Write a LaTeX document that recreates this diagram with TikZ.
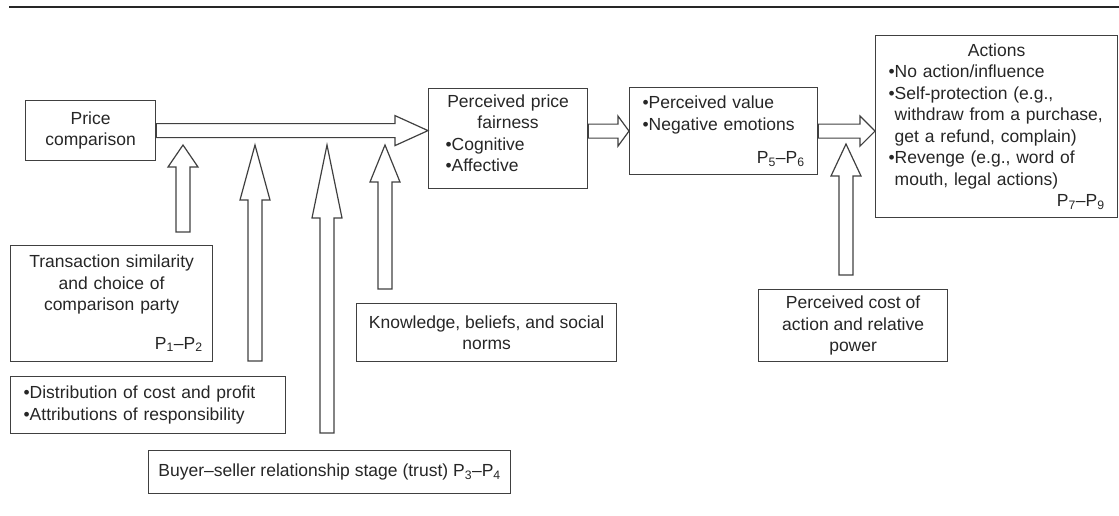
\documentclass[tikz,border=0pt]{standalone}
\usepackage{fontspec}
\setmainfont{Liberation Sans}
\usetikzlibrary{calc}

\tikzset{
	box/.style={draw=black!75, line width=1.2pt, anchor=north west, inner sep=0pt,
		align=center, text=black!85, font=\fontsize{17.5}{21.5}\selectfont},
	fat/.style={draw=black!75, line width=1.2pt, line join=miter}
}
% one line of a box, flushed left or right
\newcommand{\lft}[1]{\makebox[\hsize][l]{#1}}
\newcommand{\rgt}[1]{\makebox[\hsize][r]{#1}}
% hollow block arrow: from, to, head length
\newcommand{\fatarrow}[3]{%
	\coordinate (hb) at ($(#2)!#3!(#1)$);
	\draw[fat] ($(#1)!7pt!90:(#2)$) -- ($(hb)!7pt!90:(#2)$) -- ($(hb)!15pt!90:(#2)$) -- (#2)
		-- ($(hb)!15pt!-90:(#2)$) -- ($(hb)!7pt!-90:(#2)$) -- ($(#1)!7pt!-90:(#2)$) -- cycle;}

\begin{document}
\begin{tikzpicture}[x=1pt, y=-1pt]
		\useasboundingbox (0,0) rectangle (1119,515);
		\draw[line width=1.8pt, black!85] (9,7) -- (1119,7);

		\node[box, minimum width=130pt, minimum height=60pt] (pc) at (25,100) {Price\\comparison};
		\node[box, minimum width=159pt, minimum height=100pt, text width=125pt] (fair) at (428,88)
			{Perceived price\\fairness\\\lft{•Cognitive}\\\lft{•Affective\rule[-11pt]{0pt}{11pt}}};
		\node[box, minimum width=188pt, minimum height=87pt, text width=162pt] (val) at (629,87)
			{\lft{•Perceived value}\\\lft{•Negative emotions}\\[12pt]\rgt{P\textsubscript{5}–P\textsubscript{6}}};
		\node[box, minimum width=242pt, minimum height=182pt, text width=216pt] (act) at (875,35)
			{Actions\\\lft{•No action/influence}\\\lft{•Self-protection (e.g.,}\\
			\lft{\phantom{•}withdraw from a purchase,}\\\lft{\phantom{•}get a refund, complain)}\\
			\lft{•Revenge (e.g., word of}\\\lft{\phantom{•}mouth, legal actions)}\\
			\rgt{P\textsubscript{7}–P\textsubscript{9}}};

		\node[box, minimum width=202pt, minimum height=116pt, text width=182pt] (sim) at (10,245)
			{Transaction similarity\\and choice of\\comparison party\\[17pt]\rgt{P\textsubscript{1}–P\textsubscript{2}}};
		\node[box, minimum width=275pt, minimum height=57pt, text width=249pt, align=left] (dist) at (10,376)
			{•Distribution of cost and profit\\•Attributions of responsibility};
		\node[box, minimum width=362pt, minimum height=43pt] (trust) at (148,450)
			{Buyer–seller relationship stage (trust) P\textsubscript{3}–P\textsubscript{4}};
		\node[box, minimum width=260pt, minimum height=58pt] (know) at (356,303)
			{Knowledge, beliefs, and social\\norms};
		\node[box, minimum width=189pt, minimum height=72pt] (cost) at (758,289)
			{Perceived cost of\\action and relative\\power};

		% main flow
		\coordinate (fairIn) at (fair.west |- pc.east);
		\fatarrow{pc.east}{fairIn}{33pt}
		\coordinate (fairOut) at (fair.east |- val.west);
		\fatarrow{fairOut}{val.west}{11pt}
		\coordinate (actIn) at (act.west |- val.east);
		\fatarrow{val.east}{actIn}{15pt}

		% influences from below
		\coordinate (simBase) at (183,232);
		\coordinate (simTip) at (183,145);
		\fatarrow{simBase}{simTip}{22pt}
		\coordinate (distBase) at (255,361);
		\coordinate (distTip) at (255,145);
		\fatarrow{distBase}{distTip}{55pt}
		\coordinate (trustBase) at (327,433);
		\coordinate (trustTip) at (327,145);
		\fatarrow{trustBase}{trustTip}{73pt}
		\coordinate (knowBase) at (385,289);
		\coordinate (knowTip) at (385,145);
		\fatarrow{knowBase}{knowTip}{37pt}
		\coordinate (costBase) at (846,275);
		\coordinate (costTip) at (846,144);
		\fatarrow{costBase}{costTip}{32pt}
	\end{tikzpicture}
\end{document}
